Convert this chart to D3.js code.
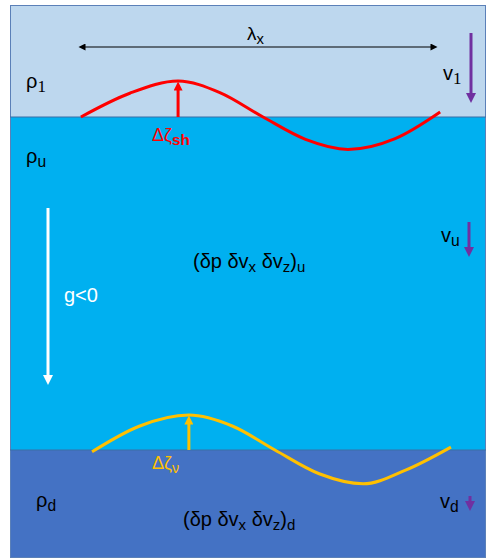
<!DOCTYPE html>
<html>
<head>
<meta charset="utf-8">
<script src="https://cdn.jsdelivr.net/npm/d3@7"></script>
<style>
  body { margin: 0; background: #fff; }
  svg { display: block; font-family: "Liberation Sans", Arial, sans-serif; }
</style>
</head>
<body>
<svg id="chart"></svg>
<script>
// layers, top to bottom (depth units)
const layerNames = ['1', 'u', 'd'];
const layerDepths = [0, 112, 445, 553];
const layerColors = ['#bdd7ee', '#00b0f0', '#4472c4'];

// interface waves: phase (fraction of lambda) vs displacement (amplitudes)
const shockWave = [
  [0.008, 0], [0.144, 0.66], [0.278, 1.0], [0.394, 0.68], [0.514, 0],
  [0.632, -0.62], [0.75, -0.9], [0.881, -0.6], [1.006, 0.14]
];
const vortWave = [
  [0.039, -0.05], [0.17, 0.66], [0.308, 0.97], [0.43, 0.66], [0.547, 0],
  [0.67, -0.66], [0.792, -0.94], [0.91, -0.56], [1.036, 0.08]
];

const width = 486, height = 558;
const svg = d3.select('#chart').attr('width', width).attr('height', height);

const x = d3.scaleLinear().domain([0, 1]).range([78, 438]);
const y = d3.scaleLinear().domain([0, 553]).range([5, 558]);
const amp = d3.scaleLinear().domain([-1, 1]).range([36, -36]);

const defs = svg.append('defs');
function marker(id, color, w, h) {
  defs.append('marker')
    .attr('id', id)
    .attr('viewBox', '0 0 10 10')
    .attr('refX', 5).attr('refY', 5)
    .attr('markerUnits', 'userSpaceOnUse')
    .attr('markerWidth', w).attr('markerHeight', h)
    .attr('orient', 'auto-start-reverse')
    .append('path')
    .attr('d', 'M0,0 L10,5 L0,10 Z')
    .attr('fill', color);
}
marker('blk', '#000', 9, 7);
marker('red', '#ff0000', 11, 9);
marker('yel', '#ffc000', 11, 9);
marker('pur', '#7030a0', 11, 10);
marker('wht', '#fff', 12, 10);

// layers
svg.selectAll('.layer')
  .data(layerNames)
  .enter().append('rect')
  .attr('class', 'layer')
  .attr('x', 10).attr('width', width - 10)
  .attr('y', (d, i) => y(layerDepths[i]))
  .attr('height', (d, i) => y(layerDepths[i + 1]) - y(layerDepths[i]))
  .attr('fill', (d, i) => layerColors[i]);

svg.append('rect')
  .attr('x', 10.5).attr('y', y(0) + 0.5)
  .attr('width', width - 11).attr('height', y(553) - y(0) - 1)
  .attr('fill', 'none').attr('stroke', '#5b80b8').attr('stroke-width', 1);

[layerDepths[1], layerDepths[2]].forEach(d => {
  svg.append('line')
    .attr('x1', 10).attr('x2', width)
    .attr('y1', y(d)).attr('y2', y(d))
    .attr('stroke', '#3a6ea5').attr('stroke-width', 1.2);
});

// lambda arrow
svg.append('line')
  .attr('x1', x(0) + 4).attr('x2', x(1) - 4)
  .attr('y1', 47).attr('y2', 47)
  .attr('stroke', '#000').attr('stroke-width', 1.2)
  .attr('marker-start', 'url(#blk)').attr('marker-end', 'url(#blk)');

function label(tx, ty, main, sub, color, size, subFont, subScale) {
  const t = svg.append('text')
    .attr('x', tx).attr('y', ty)
    .attr('fill', color).attr('font-size', size);
  t.append('tspan').text(main);
  t.append('tspan')
    .attr('dy', size * 0.2)
    .attr('font-size', size * (subScale || 0.78))
    .attr('font-family', subFont || null)
    .text(sub);
  return t;
}

label(247, 40, 'λ', 'x', '#000', 19);

// waves
const line = d3.line().curve(d3.curveMonotoneX);
function drawWave(data, depth, color, mk) {
  const base = y(depth);
  svg.append('path')
    .attr('d', line(data.map(d => [x(d[0]), base + amp(d[1])])))
    .attr('fill', 'none').attr('stroke', color)
    .attr('stroke-width', 3).attr('stroke-linecap', 'butt');
  const peak = data.reduce((a, b) => (b[1] > a[1] ? b : a));
  svg.append('line')
    .attr('x1', x(peak[0])).attr('x2', x(peak[0]))
    .attr('y1', base).attr('y2', base + amp(peak[1]) + 5)
    .attr('stroke', color).attr('stroke-width', 3)
    .attr('marker-end', `url(#${mk})`);
}
drawWave(shockWave, layerDepths[1], '#ff0000', 'red');
drawWave(vortWave, layerDepths[2], '#ffc000', 'yel');

label(152, 141, 'Δζ', 'sh', '#ff0000', 18, null, 0.85).attr('font-weight', null)
  .select('tspan:last-child').attr('font-weight', 'bold');
label(152, 469, 'Δζ', 'ν', '#ffc000', 18, null, 0.8);

// densities
label(26, 88, 'ρ', '1', '#000', 20, '"Liberation Serif", serif', 0.85);
label(26, 163, 'ρ', 'u', '#000', 20);
label(36, 507, 'ρ', 'd', '#000', 20);

// velocities
label(443, 80, 'v', '1', '#000', 20, '"Liberation Serif", serif', 0.85);
label(441, 242, 'v', 'u', '#000', 20);
label(440, 508, 'v', 'd', '#000', 20);

function vArrow(ax, y1, y2, color, mk, w) {
  svg.append('line')
    .attr('x1', ax).attr('x2', ax)
    .attr('y1', y1).attr('y2', y2 - 5)
    .attr('stroke', color).attr('stroke-width', w)
    .attr('marker-end', `url(#${mk})`);
}
vArrow(471, 33, 103, '#7030a0', 'pur', 3);
vArrow(469, 222, 257, '#7030a0', 'pur', 3);
vArrow(470, 496, 511, '#7030a0', 'pur', 3);

// gravity
vArrow(48, 208, 385, '#fff', 'wht', 3);
svg.append('text').attr('x', 64).attr('y', 302)
  .attr('fill', '#fff').attr('font-size', 20).text('g<0');

// perturbation labels
function pert(tx, ty, sub) {
  const t = svg.append('text').attr('x', tx).attr('y', ty)
    .attr('fill', '#000').attr('font-size', 20);
  t.append('tspan').text('(δp δv');
  t.append('tspan').attr('dy', 4).attr('font-size', 15).text('x');
  t.append('tspan').attr('dy', -4).text(' δv');
  t.append('tspan').attr('dy', 4).attr('font-size', 15).text('z');
  t.append('tspan').attr('dy', -4).text(')');
  t.append('tspan').attr('dy', 4).attr('font-size', 15).text(sub);
}
pert(193, 268, 'u');
pert(183, 526, 'd');
</script>
</body>
</html>
